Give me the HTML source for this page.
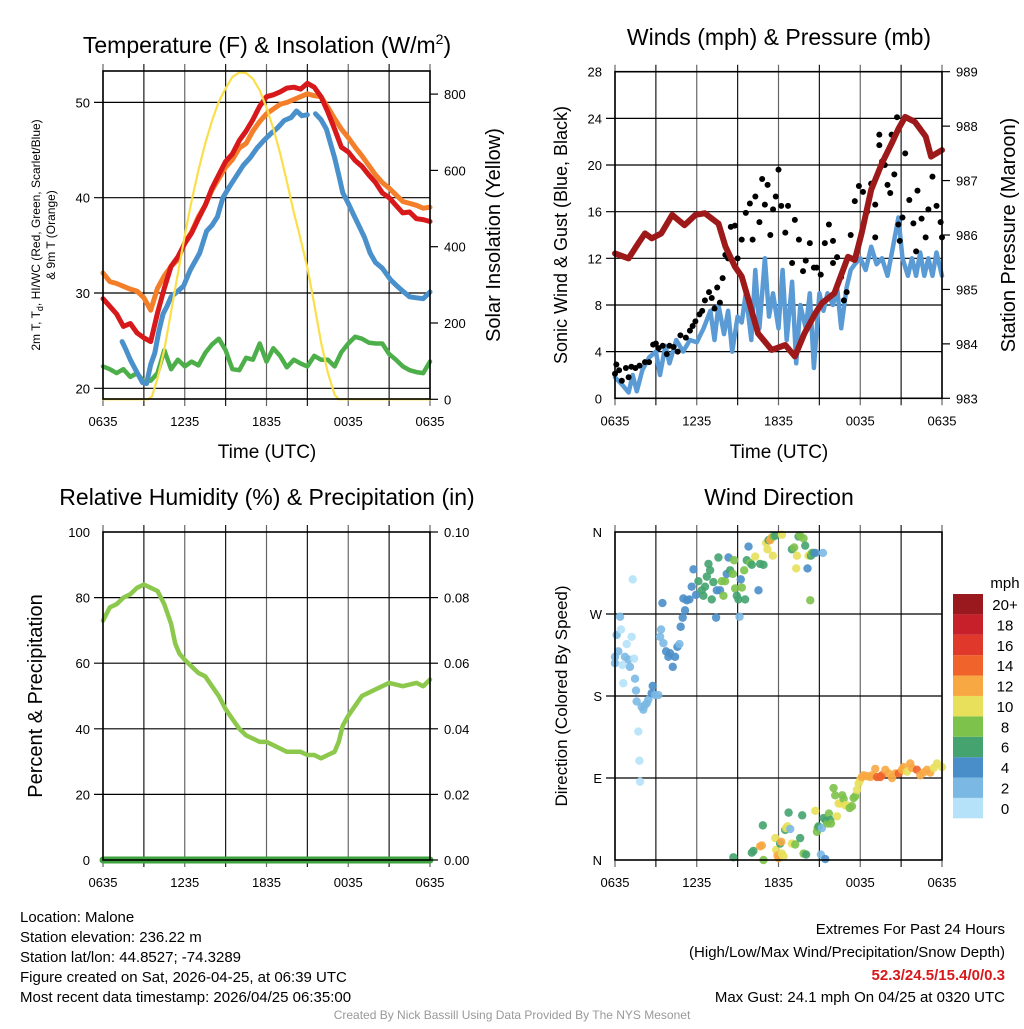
<!DOCTYPE html>
<html><head><meta charset="utf-8"><style>
body{margin:0;background:#fff}
svg text{font-family:"Liberation Sans",sans-serif;fill:#000}
</style></head><body>
<svg id="chart" width="1024" height="1024" viewBox="0 0 1024 1024" xmlns="http://www.w3.org/2000/svg">
<rect width="1024" height="1024" fill="#fff"/>
<g id="grids"></g>
<g id="marks"></g>
<g id="frames"></g>
<g id="labels"></g>
<text x="267" y="53" font-size="23" text-anchor="middle">Temperature (F) &amp; Insolation (W/m<tspan font-size="14" dy="-9">2</tspan><tspan dy="9">)</tspan></text>
<text x="779" y="45" font-size="23" text-anchor="middle">Winds (mph) &amp; Pressure (mb)</text>
<text x="267" y="505" font-size="23" text-anchor="middle">Relative Humidity (%) &amp; Precipitation (in)</text>
<text x="779" y="505" font-size="23" text-anchor="middle">Wind Direction</text>
<text x="267" y="458" font-size="19" text-anchor="middle">Time (UTC)</text>
<text x="779" y="458" font-size="19" text-anchor="middle">Time (UTC)</text>
<text transform="translate(40,235) rotate(-90)" font-size="12" text-anchor="middle">2m T, T<tspan font-size="9" dy="3">d</tspan><tspan dy="-3">, HI/WC (Red, Green, Scarlet/Blue)</tspan></text>
<text transform="translate(55,235) rotate(-90)" font-size="12" text-anchor="middle">&amp; 9m T (Orange)</text>
<text transform="translate(500,235) rotate(-90)" font-size="20" text-anchor="middle">Solar Insolation (Yellow)</text>
<text transform="translate(567,235) rotate(-90)" font-size="18" text-anchor="middle">Sonic Wind &amp; Gust (Blue, Black)</text>
<text transform="translate(1015,235) rotate(-90)" font-size="20" text-anchor="middle">Station Pressure (Maroon)</text>
<text transform="translate(42,696) rotate(-90)" font-size="20" text-anchor="middle">Percent &amp; Precipitation</text>
<text transform="translate(567,696) rotate(-90)" font-size="17" text-anchor="middle">Direction (Colored By Speed)</text>
<text x="1005" y="588" font-size="15" text-anchor="middle">mph</text>
<g font-size="15">
<text x="20" y="922">Location: Malone</text>
<text x="20" y="942">Station elevation: 236.22 m</text>
<text x="20" y="962">Station lat/lon: 44.8527; -74.3289</text>
<text x="20" y="982">Figure created on Sat, 2026-04-25, at 06:39 UTC</text>
<text x="20" y="1002">Most recent data timestamp: 2026/04/25 06:35:00</text>
</g>
<g font-size="15" text-anchor="end">
<text x="1005" y="934">Extremes For Past 24 Hours</text>
<text x="1005" y="957">(High/Low/Max Wind/Precipitation/Snow Depth)</text>
<text x="1005" y="980" font-weight="bold" style="fill:#d7191c">52.3/24.5/15.4/0/0.3</text>
<text x="1005" y="1002">Max Gust: 24.1 mph On 04/25 at 0320 UTC</text>
</g>
<text x="512" y="1019" font-size="12" text-anchor="middle" style="fill:#999">Created By Nick Bassill Using Data Provided By The NYS Mesonet</text>
</svg>
<script>
// ---- data ----
const xTickLabels=["0635","1235","1835","0035","0635"];
const tempTicks=[20,30,40,50];
const solarTicks=[0,200,400,600,800];
const windTicks=[0,4,8,12,16,20,24,28];
const presTicks=[983,984,985,986,987,988,989];
const rhTicks=[0,20,40,60,80,100];
const precipTicks=["0.00","0.02","0.04","0.06","0.08","0.10"];
const dirLabels=["N","E","S","W","N"];
const speedLabels=["0","2","4","6","8","10","12","14","16","18","20+"];
const speedColors=["#b5e2f8","#7bb9e4","#4a8ec9","#45a36f","#7dc24b","#e8e05b","#f8a843","#f0632b","#e0392b","#c8202b","#9a191e"];

const redH=[0,0.5,1,1.5,2,2.5,3,3.5,4,4.5,5,5.5,6,6.5,7,7.5,8,8.5,9,9.5,10,10.5,11,11.5,12,12.5,13,13.5,14,14.5,15,15.5,16,16.5,17,17.5,18,18.5,19,19.5,20,20.5,21,21.5,22,22.5,23,23.5,24];
const redT=[29.4,28.6,27.8,26.5,26.8,25.8,25.3,24.9,27.9,30.5,32.8,33.8,35.2,36.3,37.8,39.2,41.0,42.4,43.8,44.6,46.0,47.0,48.2,49.6,50.6,50.8,51.1,51.5,51.6,51.4,52.0,51.6,50.6,49.0,47.2,45.3,44.8,43.9,43.3,42.4,41.6,40.5,40.0,39.2,38.4,38.5,37.8,37.7,37.5];
const orangeT=[32.1,31.2,31.0,30.7,30.4,30.2,29.5,28.2,30.5,31.8,32.8,33.5,35.3,36.4,38.0,39.2,40.8,42.0,43.2,44.0,45.2,45.7,47.0,48.0,48.8,49.3,49.8,50.0,50.3,50.6,50.9,50.7,50.6,49.5,48.3,47.2,46.3,45.3,44.4,43.4,42.4,41.6,41.0,40.3,39.6,39.4,39.2,38.9,39.0];
const blueH=[1.4,1.7,2.0,2.3,2.6,2.9,3.2,3.5,3.8,4.1,4.4,4.7,5.0,5.5,5.9,6.4,7.1,7.6,8.0,8.4,8.8,9.3,9.8,10.3,10.8,11.3,11.8,12.3,12.8,13.3,13.8,14.2,14.6,15.0];
const blueT=[24.9,24.0,23.0,22.2,21.4,20.6,20.5,22.5,23.7,26.0,27.8,28.6,29.6,30.2,30.7,32.4,34.2,36.5,37.1,38.0,40.0,41.2,42.3,43.4,44.2,45.2,46.0,46.7,47.3,48.1,48.4,49.1,48.6,48.7];
const blueH2=[15.6,16.0,16.4,16.7,17.0,17.3,17.6,18.0,18.4,18.8,19.2,19.6,20.0,20.5,21.1,21.6,22.0,22.5,23.0,23.5,24];
const blueT2=[48.8,48.2,47.2,45.7,44.2,42.4,40.5,39.4,38.2,37.0,35.8,34.2,33.2,32.6,31.4,30.7,30.2,29.6,29.5,29.4,30.1];
const greenT=[22.3,22.0,21.6,22.0,21.2,21.6,20.7,20.8,21.6,24.0,22.0,23.0,22.3,22.8,22.4,23.7,24.6,25.2,24.0,22.0,21.9,23.2,23.0,24.7,22.8,24.2,23.4,22.2,23.0,22.6,22.3,23.4,23.0,23.0,22.3,23.8,24.7,25.4,25.2,24.8,24.7,24.7,23.6,23.0,22.3,21.9,21.7,21.6,22.8];
const solarH=[0,3,3.3,3.6,4,4.5,5,5.5,6,6.5,7,7.5,8,8.5,9,9.5,10,10.5,11,11.5,12,12.5,13,13.5,14,14.5,15,15.5,16,16.5,17,17.3,24];
const solarV=[0,0,0,8,55,130,230,330,430,520,600,670,730,780,815,845,857,855,840,810,765,710,645,570,490,420,345,250,150,70,12,0,0];

const presH=[0,1,1.8,2.2,2.7,3.4,4.2,5.1,5.9,6.6,7.6,8.1,8.8,9.3,9.8,10.5,11.5,12.5,13.2,13.9,14.7,15.2,16.1,17.1,17.6,18.1,18.8,19.6,20.3,20.8,21.3,22,22.8,23.2,24];
const presV=[985.66,985.57,985.88,986.03,985.94,986.03,986.37,986.18,986.37,986.40,986.21,985.79,985.42,985.24,984.81,984.19,983.89,983.98,983.77,984.19,984.56,984.75,984.93,985.60,985.54,986.03,986.83,987.32,987.68,987.95,988.17,988.08,987.81,987.44,987.56];
const sonicH=[0,0.5,1,1.3,1.6,2,2.5,3,3.3,3.7,4,4.5,5,5.5,6,6.5,7,7.3,7.6,8,8.3,8.6,9,9.3,9.6,10,10.3,10.6,11,11.3,11.6,12,12.3,12.6,13,13.3,13.6,14,14.3,14.6,15,15.3,15.6,16,16.3,16.6,17,17.3,17.6,18,18.4,18.8,19.2,19.6,20,20.4,20.8,21.1,21.5,21.8,22.1,22.4,22.7,23,23.3,23.6,24];
const sonicV=[1.8,1.2,0.5,2,0.6,2.4,3.5,4,2,4.5,3,5,4,5,4.8,6,7.5,5,8,5.5,7.5,4,7,6.5,9,5,11,6,12,7,9,6,11,5,10,3,8,6,9,2.6,9,7.5,9,8,9.5,6,9.5,11,11.5,12,11,13,11.5,12,10.5,13,15.5,12,10.5,12,10.5,12.5,10.5,12,10.5,12.5,10.5];
const gustH=[0,0.1,0.3,0.5,0.8,1,1.2,1.5,1.8,2.2,2.5,2.8,3,3.2,3.5,3.8,4,4.3,4.6,4.8,5.2,5.5,5.7,5.9,6.2,6.4,6.6,6.9,7.1,7.3,7.5,7.7,7.9,8.1,8.3,8.5,8.8,9,9.3,9.6,9.9,10.1,10.3,10.6,10.8,11,11.2,11.4,11.6,11.8,12,12.2,12.5,12.7,13,13.2,13.5,13.8,14,14.3,14.6,14.8,15.1,15.4,15.7,16,16.3,16.6,16.8,17,17.3,17.6,17.9,18.2,18.5,18.8,19.1,19.4,19.6,19.8,20,20.2,20.5,20.7,20.8,21.1,21.3,21.6,21.9,22.2,22.5,22.8,23,23.3,23.6,23.9,24,19.1,20.3,19.4,22.1,20.9,16];
const gustV=[2.1,2.9,2.4,1.5,2.6,1.8,2.7,2.6,2.8,3.1,3.1,4.6,4.7,4.3,4.5,3.8,4.5,4.4,4,5.4,5.2,5.8,6.2,6.6,7.2,7.5,8.4,9.1,8.6,7.7,9.5,8.2,10.3,12.3,12,14.7,14.8,12,13.6,15.9,16.7,13.6,17.3,15.1,18.8,16.6,18.3,14,16.2,17.3,19.6,16.5,14.2,16.5,11.6,15.3,13.6,10.9,11.8,13.3,11.2,11.2,10.6,13.3,14.9,11.6,12.1,10.4,8.4,9.1,14,16.9,18.2,17.7,16,18.4,16.6,21.7,20.3,20,18.3,17.6,19.2,24.1,14.9,15.5,21,17,15,17.8,15.4,13.8,16.2,19,16.5,15.1,13.8,13.8,22.6,22.6,12.6,13.5,13.5];

const rhH=[0,0.5,1,1.5,2,2.5,3,3.5,4,4.5,5,5.3,5.6,6,6.5,7,7.5,8,8.5,9,9.5,10,10.5,11,11.5,12,12.5,13,13.5,14,14.5,15,15.5,16,16.5,17,17.3,17.6,18,18.5,19,19.5,20,20.5,21,22,23,23.5,24];
const rhV=[73,77,78,80,81,83,84,83,82,78,72,66,63,61,59,57,56,53,50,46,43,40,38,37,36,36,35,34,33,33,33,32,32,31,32,33,36,41,44,47,50,51,52,53,54,53,54,53,55];
const precipH=[0,24];
const precipV=[0,0];

const dirH=[0,0,0.12,0.24,0.37,0.44,0.54,0.61,0.73,0.86,0.98,1.1,1.22,1.3,1.4,1.47,1.54,1.59,1.71,1.79,1.84,1.96,2.08,2.2,2.33,2.45,2.69,2.77,2.94,3.18,3.31,3.38,3.48,3.55,3.75,3.92,4.04,4.24,4.41,4.58,4.73,4.82,4.97,5.14,5.02,5.27,5.46,5.63,5.76,5.95,6.12,6.37,6.49,6.61,6.74,6.86,6.98,7.1,7.22,7.42,7.47,7.59,7.71,7.84,7.96,8.08,8.2,8.33,8.45,8.65,8.74,8.82,8.94,9.06,9.14,9.23,9.31,9.48,9.55,9.67,9.8,9.92,10.04,10.29,10.53,10.65,10.9,11.09,11.19,11.27,11.39,11.51,11.58,11.63,11.76,12.25,12.98,13.15,13.3,13.35,13.47,13.59,13.84,13.96,14.13,14.2,14.33,14.38,14.45,14.57,14.7,15.26,
8.69,10.04,10.16,10.65,10.78,10.85,10.9,11.76,11.83,11.93,12,12.12,12.2,12.25,12.37,12.49,12.56,12.66,12.74,12.86,12.98,13.23,13.59,13.74,13.84,14.03,14.7,14.82,14.87,14.94,15.11,15.18,15.31,15.43,15.5,15.6,15.7,15.8,15.85,16.04,16.16,16.29,16.41,16.53,16.68,16.78,16.9,17.02,17.22,17.39,17.51,17.63,17.76,17.88,18,18.12,18.25,18.49,18.74,18.86,19.1,19.23,19.47,19.59,19.84,20.08,20.33,20.57,20.82,21.06,21.18,21.43,21.67,21.8,22.16,22.41,22.65,22.9,23.14,23.39,23.63,24];
const dirDeg=[216,223,247,229,267,253,214,194,223,237,220,212,245,308,221,199,186,174,141,109,86,168,165,170,172,176,183,191,181,181,245,253,282,238,229,223,227,212,223,234,237,256,266,274,287,285,286,300,319,291,306,296,290,300,311,325,318,286,305,266,296,332,296,306,290,306,314,332,318,314,329,298,290,286,267,308,299,318,286,329,344,326,324,333,296,325,324,348,341,351,351,354,334,355,356,357,341,343,320,334,355,356,353,345,320,334,285,334,337,337,337,337,
3,8,10,15,16,38,0,24,11,5,2,18,20,7,4,33,35,37,52,34,18,17,24,49,7,6,54,31,35,37,6,35,46,1,43,40,51,44,40,79,71,48,62,62,71,67,60,60,57,59,68,70,77,84,88,91,93,92,91,93,100,91,91,93,99,95,90,95,95,99,102,97,106,101,99,93,96,99,96,101,106,102];
const dirSpeed=[3,3,2,2,2,1,1,1,2,1,2,2,1,1,1,3,3,3,1,1,1,3,2,3,2,3,4,4,3,3,2,3,4,3,4,4,4,4,4,4,3,4,4,4,4,4,4,4,4,4,6,6,6,7,6,6,6,6,6,4,4,6,4,8,8,8,4,4,6,8,8,8,6,6,2,4,8,8,6,6,4,8,6,10,4,6,7,10,10,7,12,12,10,9,7,10,7,8,10,10,6,8,8,6,4,10,8,6,8,6,4,2,
6,7,6,12,13,6,8,10,11,13,13,7,12,10,11,6,10,10,6,3,10,8,6,6,9,6,10,8,8,7,3,3,6,4,7,8,8,7,8,8,8,10,10,10,8,8,10,10,8,8,8,8,10,10,11,12,12,12,13,12,12,14,14,15,13,12,13,12,14,13,12,11,12,12,15,13,12,13,12,11,10,10];

// ---- scales ----
const NS="http://www.w3.org/2000/svg";
function mk(tag,attrs,parent){const e=document.createElementNS(NS,tag);for(const k in attrs)e.setAttribute(k,attrs[k]);(parent||document.getElementById('marks')).appendChild(e);return e;}
const P1={x0:103,x1:430,y0:71,y1:399},P2={x0:615,x1:942,y0:71.7,y1:398.3},P3={x0:103,x1:430,y0:532,y1:860},P4={x0:615,x1:942,y0:532,y1:860};
const xs=(P,h)=>P.x0+h*(P.x1-P.x0)/24;
const yTemp=t=>388.3-(t-20)*9.53;
const ySolar=v=>399.3-v*0.3815;
const yWind=v=>P2.y1-v*(P2.y1-P2.y0)/28;
const yPres=p=>P2.y1-(p-983)*(P2.y1-P2.y0)/6;
const yRH=v=>P3.y1-v*(P3.y1-P3.y0)/100;
const yDir=d=>P4.y1-d*(P4.y1-P4.y0)/360;
const yPrecip=v=>P3.y1-v*(P3.y1-P3.y0)/0.1;

const grids=document.getElementById('grids'),frames=document.getElementById('frames'),labels=document.getElementById('labels');
function panel(P,name,hVals,yf){
  for(let i=0;i<=8;i++){const x=xs(P,i*3);
    const l=mk('line',{x1:x,x2:x,y1:P.y0-7,y2:P.y1+7,stroke:'#000','stroke-width':1.2,'stroke-opacity':i%2?0.9:0.6},grids);
    
    }
  hVals.forEach(v=>{const y=yf(v);
    const l=mk('line',{x1:P.x0-9,x2:P.x1,y1:y,y2:y,stroke:'#000','stroke-width':1.2},grids);
    
    });
  const r=mk('rect',{x:P.x0,y:P.y0,width:P.x1-P.x0,height:P.y1-P.y0,fill:'none',stroke:'#000','stroke-width':1.6},frames);
  
  
  xTickLabels.forEach((s,i)=>{const t=mk('text',{x:xs(P,i*6),y:P.y1+27,'font-size':13,'text-anchor':'middle'},labels);t.textContent=s;
    
    });
}
function yLabels(vals,txt,yf,x,anchor,name,rightTicks){
  vals.forEach((v,i)=>{const y=yf(v);const t=mk('text',{x:x,y:y+5,'font-size':13,'text-anchor':anchor},labels);t.textContent=txt[i];
    
    
    if(rightTicks!==undefined){mk('line',{x1:rightTicks,x2:rightTicks+8,y1:y,y2:y,stroke:'#000','stroke-width':1.2},frames);}});
}
function path(hs,vs,P,yf,color,w,name){let d='';hs.forEach((h,i)=>{d+=(i?'L':'M')+xs(P,h).toFixed(1)+','+yf(vs[i]).toFixed(1);});
  const p=mk('path',{d:d,fill:'none',stroke:color,'stroke-width':w,'stroke-linejoin':'round','stroke-linecap':'round'});
  
  }

// Panel 1
panel(P1,'temp',tempTicks,yTemp);
yLabels(tempTicks,tempTicks.map(String),yTemp,P1.x0-13,'end','temp-y-tick-label');
yLabels(solarTicks,solarTicks.map(String),ySolar,P1.x1+14,'start','solar-y-tick-label',P1.x1);
path(redH,greenT,P1,yTemp,'#4daf4a',4.5,'dewpoint-line');
path(redH,orangeT,P1,yTemp,'#f47f2a',5,'temp-9m-line');
path(redH,redT,P1,yTemp,'#d7191c',5,'temp-2m-line');
path(blueH,blueT,P1,yTemp,'#4a90cb',5,'windchill-line');
path(blueH2,blueT2,P1,yTemp,'#4a90cb',5,'windchill-line-2');
path(solarH,solarV,P1,ySolar,'#fbdf4a',2.2,'solar-line');

// Panel 2
panel(P2,'wind',windTicks.slice(1,7),yWind);
yLabels(windTicks,windTicks.map(String),yWind,P2.x0-13,'end','wind-y-tick-label');
yLabels(presTicks,presTicks.map(String),yPres,P2.x1+14,'start','pressure-y-tick-label',P2.x1);
path(sonicH,sonicV,P2,yWind,'#5a9bd5',4.5,'sonic-wind-line');
gustH.forEach((h,i)=>{const c=mk('circle',{cx:xs(P2,h),cy:yWind(gustV[i]),r:3,fill:'#000'});
  
  });
path(presH,presV,P2,yPres,'#9e1a1a',6,'pressure-line');

// Panel 3
panel(P3,'rh',rhTicks.slice(1,5),yRH);
yLabels(rhTicks,rhTicks.map(String),yRH,P3.x0-13,'end','rh-y-tick-label');
yLabels([0,0.02,0.04,0.06,0.08,0.1],precipTicks,yPrecip,P3.x1+14,'start','precip-y-tick-label',P3.x1);
path(rhH,rhV,P3,yRH,'#8cc84b',4.5,'rh-line');
path(precipH,precipV,P3,yPrecip,'#3da13d',7,'precip-line');

// Panel 4
panel(P4,'dir',[90,180,270],yDir);
yLabels([0,90,180,270,360],["N","E","S","W","N"],yDir,P4.x0-13,'end','dir-y-tick-label');
dirH.forEach((h,i)=>{if(dirDeg[i]===undefined)return;
  const sp=dirSpeed[i]===undefined?0:dirSpeed[i];
  const b=Math.min(10,Math.floor(sp/2));
  const c=mk('circle',{cx:xs(P4,h),cy:yDir(dirDeg[i]),r:4.2,fill:speedColors[b],'fill-opacity':0.9});
  
  });

// colorbar
speedLabels.forEach((s,i)=>{const y=818.3-(i+1)*20.39;
  const r=mk('rect',{x:953,y:y,width:30,height:20.39,fill:speedColors[i]},labels);
  
  
  const t=mk('text',{x:1005,y:y+16,'font-size':15,'text-anchor':'middle'},labels);t.textContent=s;
  
  });
</script>
</body></html>
